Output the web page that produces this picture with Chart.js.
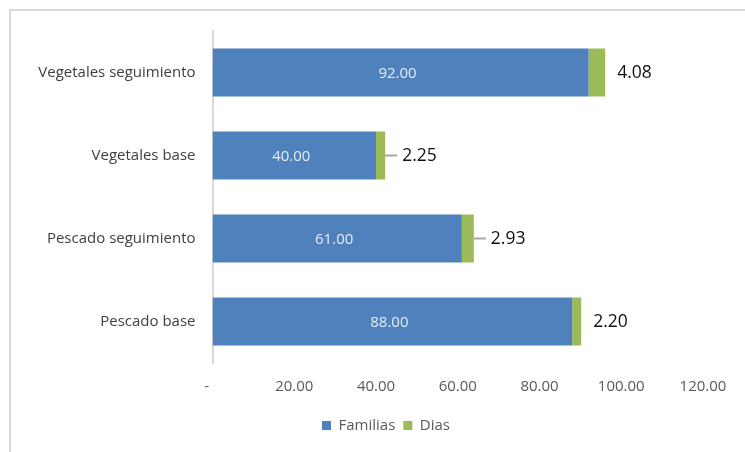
<!DOCTYPE html>
<html>
<head>
<meta charset="utf-8">
<script src="https://cdn.jsdelivr.net/npm/chart.js@4.4.1/dist/chart.umd.min.js"></script>
<style>
  html, body { margin: 0; padding: 0; background: #fff; }
  #marco { position: absolute; left: 9px; top: 9px; width: 800px; height: 500px;
           border-left: 2px solid #d9d9d9; border-top: 2px solid #d9d9d9; }
  #caja { position: absolute; left: 0; top: 0; width: 745px; height: 452px; }
</style>
</head>
<body>
<div id="marco"></div>
<div id="caja"><canvas id="grafico"></canvas></div>
<script>
// Datos del gráfico
const categorias = ['Vegetales seguimiento', 'Vegetales base', 'Pescado seguimiento', 'Pescado base'];
const familias = [92, 40, 61, 88];
const dias = [4.08, 2.25, 2.93, 2.20];
const ejeMin = 0;
const ejeMax = 120;
const ejePaso = 20;
// etiquetas de Dias que llevan línea guía
const conGuia = [false, true, true, false];

const fuente = "'Open Sans', 'Liberation Sans', sans-serif";

// Etiquetas de valor: dentro de la barra azul y a la derecha de la verde
const etiquetas = {
  id: 'etiquetas',
  afterDatasetsDraw(chart) {
    const ctx = chart.ctx;
    ctx.save();
    ctx.textBaseline = 'middle';

    const azul = chart.getDatasetMeta(0);
    ctx.font = '15px ' + fuente;
    ctx.fillStyle = '#e4ebf5';
    ctx.textAlign = 'center';
    azul.data.forEach((el, i) => {
      const c = el.getCenterPoint();
      ctx.fillText(familias[i].toFixed(2), c.x - 3, c.y + 1);
    });

    const verde = chart.getDatasetMeta(1);
    ctx.font = '17.5px ' + fuente;
    ctx.textAlign = 'left';
    verde.data.forEach((el, i) => {
      let x = el.x + 12;
      if (conGuia[i]) {
        ctx.strokeStyle = '#a6a6a6';
        ctx.lineWidth = 2;
        ctx.beginPath();
        ctx.moveTo(el.x, el.y);
        ctx.lineTo(el.x + 12, el.y);
        ctx.stroke();
        x = el.x + 17;
      }
      ctx.fillStyle = '#111';
      ctx.fillText(dias[i].toFixed(2), x, el.y + 1);
    });
    ctx.restore();
  }
};

// La leyenda va centrada bajo todo el gráfico (incluidas las categorías)
const leyendaCentrada = {
  id: 'leyendaCentrada',
  afterLayout(chart) {
    const l = chart.legend;
    if (!l) return;
    const d = 386 - (l.left + l.right) / 2;
    l.left += d;
    l.right += d;
  }
};

new Chart(document.getElementById('grafico'), {
  type: 'bar',
  data: {
    labels: categorias,
    datasets: [
      { label: 'Familias', data: familias, backgroundColor: '#4f81bd' },
      { label: 'Dias', data: dias, backgroundColor: '#9bbb59' }
    ]
  },
  options: {
    indexAxis: 'y',
    responsive: true,
    maintainAspectRatio: false,
    animation: false,
    datasets: { bar: { categoryPercentage: 1, barPercentage: 0.58 } },
    layout: { padding: { left: 10, right: 42, top: 31, bottom: 9 } },
    plugins: {
      legend: {
        position: 'bottom',
        labels: {
          boxWidth: 9, boxHeight: 9, padding: 8,
          color: '#595959',
          font: { family: fuente, size: 15 }
        }
      },
      tooltip: { enabled: false }
    },
    scales: {
      x: {
        stacked: true,
        min: ejeMin, max: ejeMax,
        ticks: {
          stepSize: ejePaso,
          color: '#595959',
          padding: 14.5,
          font: { family: fuente, size: 15 },
          callback: v => v === 0 ? '-   ' : v.toFixed(2)
        },
        grid: { display: false, drawTicks: false },
        border: { display: false }
      },
      y: {
        stacked: true,
        afterFit(scale) { scale.width = 202.5; },
        ticks: {
          color: '#404040',
          padding: 17,
          font: { family: fuente, size: 15 }
        },
        grid: { display: false, drawTicks: false },
        border: { display: true, color: '#d9d9d9', width: 2 }
      }
    }
  },
  plugins: [etiquetas, leyendaCentrada]
});
</script>
</body>
</html>
